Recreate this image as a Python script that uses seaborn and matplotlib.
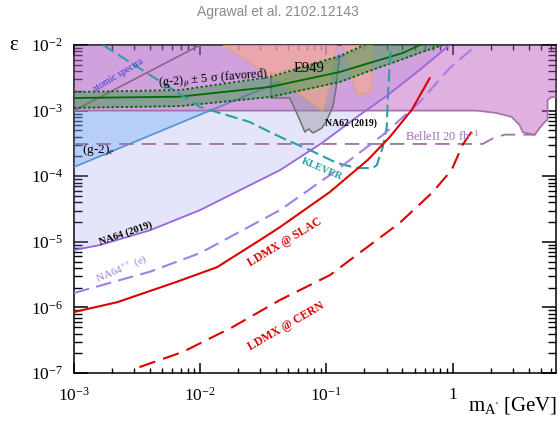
import numpy as np
import matplotlib
matplotlib.use("Agg")
import matplotlib.pyplot as plt
import seaborn as sns
from matplotlib.ticker import FixedLocator, FixedFormatter, LogLocator, NullFormatter

# ---------------- limits and curves (mass in GeV, epsilon) ----------------
x_ticks = [1e-3, 1e-2, 1e-1, 1.0]
x_tick_labels = ["$10^{-3}$", "$10^{-2}$", "$10^{-1}$", "1"]
y_ticks = [1e-7, 1e-6, 1e-5, 1e-4, 1e-3, 1e-2]
y_tick_labels = ["$10^{-7}$", "$10^{-6}$", "$10^{-5}$", "$10^{-4}$", "$10^{-3}$", "$10^{-2}$"]

na64_mass = [1e-3, 1.6e-3, 4.0e-3, 1.0e-2, 0.043, 0.092, 0.184, 0.30, 0.55, 0.95]
na64_eps = [7.5e-6, 8.9e-6, 1.5e-5, 3.05e-5, 1.24e-4, 3.2e-4, 8.6e-4, 1.67e-3, 4.2e-3, 1.0e-2]

na64pp_mass = [1e-3, 4.0e-3, 1.0e-2, 0.043, 0.1125, 0.28, 0.55, 0.95, 1.55]
na64pp_eps = [1.66e-6, 3.5e-6, 6.75e-6, 3.05e-5, 1.12e-4, 4.25e-4, 1.35e-3, 4.46e-3, 1.0e-2]

babar_mass = [1e-3, 1.55, 2.23, 2.94, 3.40, 3.59, 4.47, 4.90, 5.36, 5.66, 5.66, 6.09, 6.6]
babar_eps = [1e-3, 1e-3, 9.2e-4, 8.0e-4, 6.0e-4, 4.7e-4, 4.25e-4, 5.43e-4, 6.7e-4, 7.2e-4,
             1.45e-3, 1.61e-3, 1.61e-3]

g2e_mass = [1e-3, 0.01194, 0.22]
g2e_eps = [1.38e-4, 1e-3, 1e-2]

atomic_mass = [1e-3, 1e-2]
atomic_eps = [1e-3, 1e-2]

gm2_mass = [1e-3, 6.9e-3, 0.0356, 0.1276, 0.233, 0.403, 0.55, 0.836]
gm2_center = [1.556e-3, 1.63e-3, 2.29e-3, 3.88e-3, 5.51e-3, 7.55e-3, 1.0e-2, 1.45e-2]
gm2_upper = [1.92e-3, 2.06e-3, 3.25e-3, 6.8e-3, 1.15e-2, 1.7e-2, 2.2e-2, 3.0e-2]
gm2_lower = [1.1e-3, 1.17e-3, 1.61e-3, 2.73e-3, 4.2e-3, 6.1e-3, 7.6e-3, 1.0e-2]

e949_a_mass = [0.01514, 0.0218, 0.0313, 0.0583, 0.0935, 0.1064, 0.121]
e949_a_eps = [1e-2, 6.34e-3, 3.88e-3, 1.92e-3, 9.87e-4, 2.46e-3, 1e-2]
e949_b_mass = [0.1325, 0.153, 0.168, 0.1774, 0.209, 0.229, 0.233, 0.233]
e949_b_eps = [1e-2, 4.63e-3, 2.21e-3, 1.73e-3, 1.85e-3, 2.06e-3, 5.9e-3, 1e-2]

na62_mass = [0.0363, 0.0363, 0.0513, 0.0615, 0.0675, 0.0726, 0.078, 0.084, 0.092,
             0.097, 0.1025, 0.1124, 0.1187, 0.1276]
na62_eps = [3.74e-3, 1.56e-3, 1.56e-3, 7.2e-4, 4.72e-4, 5.25e-4, 4.56e-4, 4.89e-4, 5.43e-4,
            6.25e-4, 7.7e-4, 1.13e-3, 2.06e-3, 7.04e-3]

klever_mass = [1.7e-3, 0.01, 0.0247, 0.0356, 0.0486, 0.0739, 0.121, 0.174, 0.233, 0.251,
               0.280, 0.301, 0.306, 0.324]
klever_eps = [1e-2, 1.13e-3, 6.7e-4, 4.72e-4, 3.56e-4, 2.51e-4, 1.59e-4, 1.33e-4, 1.33e-4,
              1.48e-4, 2.79e-4, 5.62e-4, 1.45e-3, 1e-2]

belle_mass = [1e-3, 1.73, 2.1, 2.6, 4.47]
belle_eps = [3.1e-4, 3.1e-4, 3.8e-4, 4.3e-4, 4.3e-4]

ldmx_slac_mass = [1e-3, 2.2e-3, 6.5e-3, 0.0136, 0.0297, 0.043, 0.106, 0.213, 0.318, 0.474, 0.66]
ldmx_slac_eps = [8.5e-7, 1.2e-6, 2.45e-6, 4.1e-6, 1.06e-5, 1.68e-5, 5.7e-5, 1.77e-4, 3.96e-4,
                 1.02e-3, 3.14e-3]

ldmx_cern_mass = [3.3e-3, 7.3e-3, 0.018, 0.043, 0.1065, 0.174, 0.381, 0.695, 0.984, 1.20, 1.50]
ldmx_cern_eps = [1.23e-7, 2.1e-7, 5.0e-7, 1.3e-6, 3.1e-6, 6.3e-6, 1.94e-5, 5.7e-5, 1.25e-4,
                 3.0e-4, 5.6e-4]

# ---------------- style ----------------
sns.set_theme(style="white")
plt.rcParams["font.family"] = ["Liberation Serif", "DejaVu Serif"]
plt.rcParams["mathtext.fontset"] = "custom"
plt.rcParams["mathtext.rm"] = "Liberation Serif"
plt.rcParams["mathtext.it"] = "Liberation Serif:italic"
plt.rcParams["mathtext.bf"] = "Liberation Serif:bold"

fig = plt.figure(figsize=(5.6, 4.24), dpi=100)
ax = fig.add_axes([74 / 560, 1 - 373 / 424, (556 - 74) / 560, (373 - 45) / 424])
ax.set_xscale("log")
ax.set_yscale("log")
ax.set_xlim(1e-3, 6.6)
ax.set_ylim(1e-7, 1e-2)
TOP = 1e-2


def curve(m, e, z=3, **kw):
    sns.lineplot(x=m, y=e, ax=ax, estimator=None, sort=False, legend=False, zorder=z, **kw)


# ---------------- excluded regions ----------------
ax.fill_between(na64_mass, na64_eps, TOP, color="#8484f0", alpha=0.22, lw=0, zorder=1.0)
ax.fill_between(g2e_mass[:2], g2e_eps[:2], atomic_eps[0], color="#64aaf5", alpha=0.35,
                lw=0, zorder=1.1)
curve(g2e_mass, g2e_eps, z=1.2, color="#4f94d4", lw=1.2)
curve(atomic_mass, atomic_eps, z=1.2, color="#6e6e6e", lw=1.2)
ax.fill_between(babar_mass, babar_eps, TOP, color="#bb50bb", alpha=0.45, lw=0, zorder=1.3)
curve(babar_mass, babar_eps, z=1.35, color="#a070a8", lw=1.2)
ax.fill(na62_mass, na62_eps, facecolor="#8c8c96", alpha=0.38, edgecolor="none", zorder=1.4)
curve(na62_mass, na62_eps, z=1.45, color="#707070", lw=1.1)
ax.fill(e949_a_mass, e949_a_eps, facecolor="#faaa8c", alpha=0.6, edgecolor="#e0a060",
        lw=1.0, zorder=1.5)
ax.fill(e949_b_mass, e949_b_eps, facecolor="#faaa8c", alpha=0.6, edgecolor="#e0a060",
        lw=1.0, zorder=1.5)

# (g-2)_mu favoured band
ax.fill_between(gm2_mass, gm2_lower, gm2_upper, color="#2f9a42", alpha=0.45, lw=0, zorder=1.6)
curve(gm2_mass, gm2_upper, z=1.7, color="#006400", lw=1.3, linestyle=(0, (1.3, 1.3)))
curve(gm2_mass, gm2_lower, z=1.7, color="#006400", lw=1.3, linestyle=(0, (1.3, 1.3)))
curve(gm2_mass, gm2_center, z=1.7, color="#006a00", lw=1.3)

# ---------------- limit and projection curves ----------------
curve(klever_mass, klever_eps, color="#2aa0a0", lw=1.5, linestyle=(0, (6, 2.5)))
curve(belle_mass, belle_eps, color="#a070a8", lw=1.3, linestyle=(0, (8, 4.5)))
curve(na64_mass, na64_eps, color="#9966dd", lw=1.3)
curve(na64pp_mass, na64pp_eps, color="#a080e8", lw=1.5, linestyle=(0, (7.5, 3.5)))
curve(ldmx_slac_mass, ldmx_slac_eps, color="#dd0000", lw=1.5)
curve(ldmx_cern_mass, ldmx_cern_eps, color="#dd0000", lw=1.5, linestyle=(0, (8, 4)))

# ---------------- labels on the plot ----------------
def label(m, e, s, rot=0, **kw):
    kw.setdefault("ha", "center")
    ax.text(m, e, s, rotation=rot, rotation_mode="anchor", va="center", zorder=6, **kw)


label(2.23e-3, 3.49e-3, "atomic spectra", rot=31, fontsize=7, color="#3a3ad0")
label(0.01262, 3.03e-3, r"(g-2)$_{\mu}$ ± 5 σ (favored)", rot=5, fontsize=9, color="black")
label(0.0726, 4.46e-3, "E949", fontsize=10.5, color="black")
label(0.156, 6.47e-4, "NA62 (2019)", fontsize=7, fontweight="bold", color="black")
label(1.55e-3, 2.51e-4, r"(g-2)$_{e}$", fontsize=9.5, color="black")
label(0.418, 4.1e-4, r"BelleII 20 fb$^{-1}$", fontsize=9, color="#a070b0", ha="left")
label(0.092, 1.29e-4, "KLEVER", rot=-23, fontsize=7.5, fontweight="bold", color="#2aa0a0")
label(2.58e-3, 1.36e-5, "NA64 (2019)", rot=19, fontsize=7.5, fontweight="bold", color="black")
label(2.4e-3, 3.85e-6, r"NA64$^{++}$ (e)", rot=23, fontsize=8, color="#a080e0")
label(0.047, 9.8e-6, "LDMX @ SLAC", rot=31, fontsize=8.5, fontweight="bold", color="#dd0000")
label(0.048, 5.2e-7, "LDMX @ CERN", rot=30, fontsize=8.5, fontweight="bold", color="#dd0000")

# ---------------- axes, ticks ----------------
ax.set_axisbelow(True)
for s in ax.spines.values():
    s.set_zorder(0.6)
    s.set_linewidth(1.1)
    s.set_color("black")
    s.set_visible(True)

ax.xaxis.set_major_locator(FixedLocator(x_ticks))
ax.xaxis.set_major_formatter(FixedFormatter(x_tick_labels))
ax.yaxis.set_major_locator(FixedLocator(y_ticks))
ax.yaxis.set_major_formatter(FixedFormatter(y_tick_labels))
ax.xaxis.set_minor_locator(LogLocator(base=10, subs=np.arange(2, 10), numticks=30))
ax.yaxis.set_minor_locator(LogLocator(base=10, subs=np.arange(2, 10), numticks=30))
ax.xaxis.set_minor_formatter(NullFormatter())
ax.yaxis.set_minor_formatter(NullFormatter())

ax.tick_params(axis="both", which="both", direction="in", top=True, right=True,
               bottom=True, left=True, colors="black", labelsize=12.5)
ax.tick_params(axis="y", which="major", length=10, width=1.1, pad=8)
ax.tick_params(axis="y", which="minor", length=5.5, width=1.0)
ax.tick_params(axis="x", which="major", length=7, width=1.1, pad=10)
ax.tick_params(axis="x", which="minor", length=3.5, width=1.0)

fig.text(0.497, 0.972, "Agrawal et al. 2102.12143", ha="center", va="center",
         color="#8a8a8a", fontsize=10, family="Liberation Sans")
fig.text(14 / 560, 1 - 45 / 424, "ε", ha="center", va="center", fontsize=15, color="black")
fig.text(557 / 560, 1 - 406 / 424, r"m$_{\mathrm{A'}}$ [GeV]", ha="right", va="center",
         fontsize=15, color="black")

fig.savefig("out.png", dpi=100)
